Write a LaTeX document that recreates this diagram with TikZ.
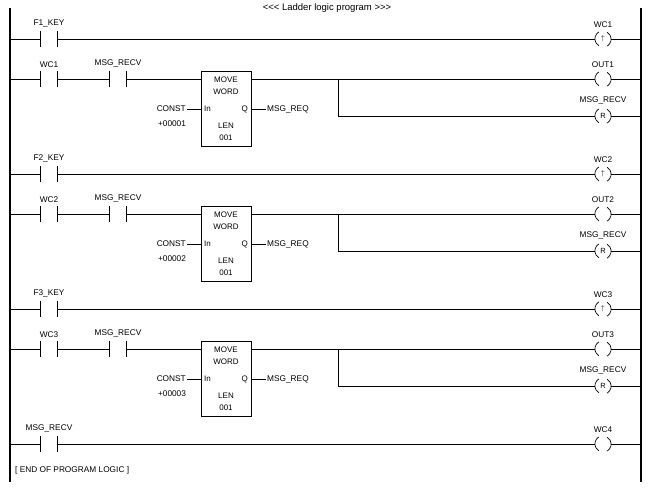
\documentclass[tikz,border=0pt]{standalone}
\usepackage{fontspec}
\setmainfont{Liberation Sans}[Ligatures=NoCommon]
\usetikzlibrary{positioning}
\tikzset{
  wire/.style={line width=0.7pt},
  contact/.style={minimum width=16pt, minimum height=16pt, inner sep=0pt},
  coil/.style={circle, minimum size=16pt, inner sep=0pt, font=\fontsize{7.5}{8}\selectfont},
  tag/.style={font=\fontsize{8.3}{9.5}\selectfont, inner sep=1pt},
  btag/.style={font=\fontsize{8}{9}\selectfont, inner sep=1pt},
  rail/.style={line width=2.8pt}
}
% contact: name, x, y, label
\newcommand{\lcontact}[4]{%
  \node[contact] (#1) at (#2,#3) {};
  \node[tag, above=2pt of #1] {#4};
  \draw[wire] (#1.north west) -- (#1.south west) (#1.north east) -- (#1.south east);
}
% coil: name, x, y, label, symbol
\newcommand{\lcoil}[5]{%
  \node[coil] (#1) at (#2,#3) {#5};
  \node[tag, above=2pt of #1] {#4};
  \draw[wire] (#1.120) arc[start angle=120, end angle=240, radius=8pt];
  \draw[wire] (#1.-60) arc[start angle=-60, end angle=60, radius=8pt];
}
\begin{document}
\begin{tikzpicture}[x=1pt, y=1pt]
\useasboundingbox (0,0) rectangle (653,488);

\node[tag, font=\fontsize{9.5}{11}\selectfont] (title) at (327,480) {{<}{<}{<} Ladder logic program {>}{>}{>}};
\draw[rail] (10,480) -- (10,6);
\draw[rail] (641,480) -- (641,6);

\foreach \i/\o in {1/0, 2/135, 3/270}{
  % edge rung
  \lcontact{fk\i}{49}{449-\o}{F\i\_KEY}
  \lcoil{wc\i}{603}{449-\o}{WC\i}{$\uparrow$}
  \draw[wire] (10,449-\o) -- (fk\i.west);
  \draw[wire] (fk\i.east) -- (wc\i.west);
  \draw[wire] (wc\i.east) -- (641,449-\o);
  % move rung
  \lcontact{ka\i}{49}{409-\o}{WC\i}
  \lcontact{kb\i}{118}{409-\o}{MSG\_RECV}
  \node[draw, wire, minimum width=50pt, minimum height=75pt, inner sep=0pt] (mv\i) at (226,379.5-\o) {};
  \node[btag] at (226,408-\o) {MOVE};
  \node[btag] at (226,396-\o) {WORD};
  \node[btag, anchor=west] (in\i) at (203,379-\o) {In};
  \node[btag, anchor=east] (q\i) at (249,379-\o) {Q};
  \node[btag] at (226,362-\o) {LEN};
  \node[btag] at (226,350-\o) {001};
  \node[tag, anchor=east] (cst\i) at (187,379-\o) {CONST};
  \node[tag] at (172,364-\o) {+0000\i};
  \node[tag, anchor=west] (rq\i) at (266,379-\o) {MSG\_REQ};
  \draw[wire] (cst\i.east) -- (mv\i.west |- cst\i.east);
  \draw[wire] (mv\i.east |- rq\i.west) -- (rq\i.west);
  \lcoil{out\i}{603}{409-\o}{OUT\i}{}
  \lcoil{rs\i}{603}{372-\o}{MSG\_RECV}{R}
  \draw[wire] (10,409-\o) -- (ka\i.west);
  \draw[wire] (ka\i.east) -- (kb\i.west);
  \draw[wire] (kb\i.east) -- (mv\i.west |- kb\i.east);
  \draw[wire] (mv\i.east |- out\i.west) -- (out\i.west);
  \draw[wire] (338,409-\o) -- (338,372-\o) -- (rs\i.west);
  \draw[wire] (out\i.east) -- (641,409-\o);
  \draw[wire] (rs\i.east) -- (641,372-\o);
}

% last rung
\lcontact{kr}{49}{44}{MSG\_RECV}
\lcoil{wc4}{603}{44}{WC4}{}
\draw[wire] (10,44) -- (kr.west);
\draw[wire] (kr.east) -- (wc4.west);
\draw[wire] (wc4.east) -- (641,44);
\node[tag, anchor=west] (endtxt) at (14,18) {[ END OF PROGRAM LOGIC ]};
\end{tikzpicture}
\end{document}
